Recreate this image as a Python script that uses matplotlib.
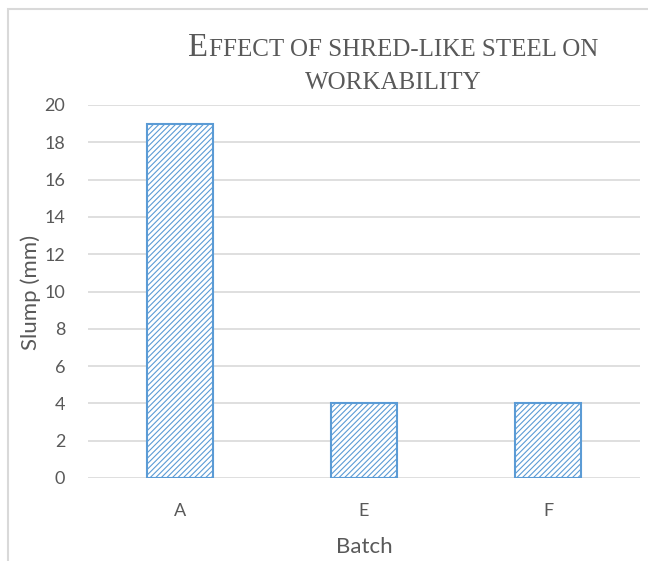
import numpy as np
import matplotlib
matplotlib.use("Agg")
import matplotlib.pyplot as plt
from matplotlib.patches import Rectangle

batches = ["A", "E", "F"]
slump = [19, 4, 4]
yticks = list(range(0, 21, 2))

W, H = 648, 561
GREY = "#595959"
BLUE = "#5B9BD5"
GRID = "#D9D9D9"
SANS = "Lato"
SERIF = "Liberation Serif"

plt.rcParams["hatch.linewidth"] = 0.8
plt.rcParams["hatch.color"] = BLUE

fig = plt.figure(figsize=(W / 100, H / 100), dpi=100)
fig.patch.set_facecolor("white")

# chart frame (only top and left edges visible in the crop)
fig.patches.append(Rectangle((8 / W, -0.1), 1.2, (H - 9) / H + 0.1, transform=fig.transFigure,
                             facecolor="none", edgecolor=GRID, linewidth=1.5))

left, right, bottom, top = 88, 640, 478, 105
ax = fig.add_axes([left / W, (H - bottom) / H, (right - left) / W, (bottom - top) / H])

x = np.arange(len(batches))
ax.bar(x, slump, width=0.36, facecolor="white", edgecolor=BLUE, hatch="//////",
       linewidth=1.5, zorder=3)

ax.set_xlim(-0.5, len(batches) - 0.5)
ax.set_ylim(0, 20)
ax.set_yticks(yticks)
ax.set_xticks(x)
ax.set_xticklabels(batches)
ax.grid(axis="y", color=GRID, linewidth=1.2, zorder=0)
ax.set_axisbelow(True)
for s in ax.spines.values():
    s.set_visible(False)
ax.tick_params(length=0, colors=GREY, labelsize=13)
ax.tick_params(axis="y", pad=16.5)
ax.tick_params(axis="x", pad=18)
for lab in ax.get_xticklabels() + ax.get_yticklabels():
    lab.set_family(SANS)

fig.text(31 / W, (H - 292) / H, "Slump (mm)", rotation=90, ha="center", va="center",
         color=GREY, fontsize=16, family=SANS)
fig.text(364 / W, (H - 547) / H, "Batch", ha="center", va="center",
         color=GREY, fontsize=16, family=SANS)

# small-caps title
cx = 393 / W
y1, y2 = (H - 56) / H, (H - 89) / H
t1 = fig.text(cx, y1, "E", fontsize=23.5, family=SERIF, color=GREY, va="baseline")
t2 = fig.text(0, y1, "FFECT OF SHRED-LIKE STEEL ON", fontsize=18, family=SERIF, color=GREY,
              va="baseline")
t3 = fig.text(cx, y2, "WORKABILITY", fontsize=18, family=SERIF, color=GREY,
              ha="center", va="baseline")
fig.canvas.draw()
r = fig.canvas.get_renderer()
w1 = t1.get_window_extent(r).width
w2 = t2.get_window_extent(r).width
x0 = cx * W - (w1 + w2) / 2
t1.set_x(x0 / W)
t2.set_x((x0 + w1 + 1) / W)

fig.savefig("out.png", dpi=100)
